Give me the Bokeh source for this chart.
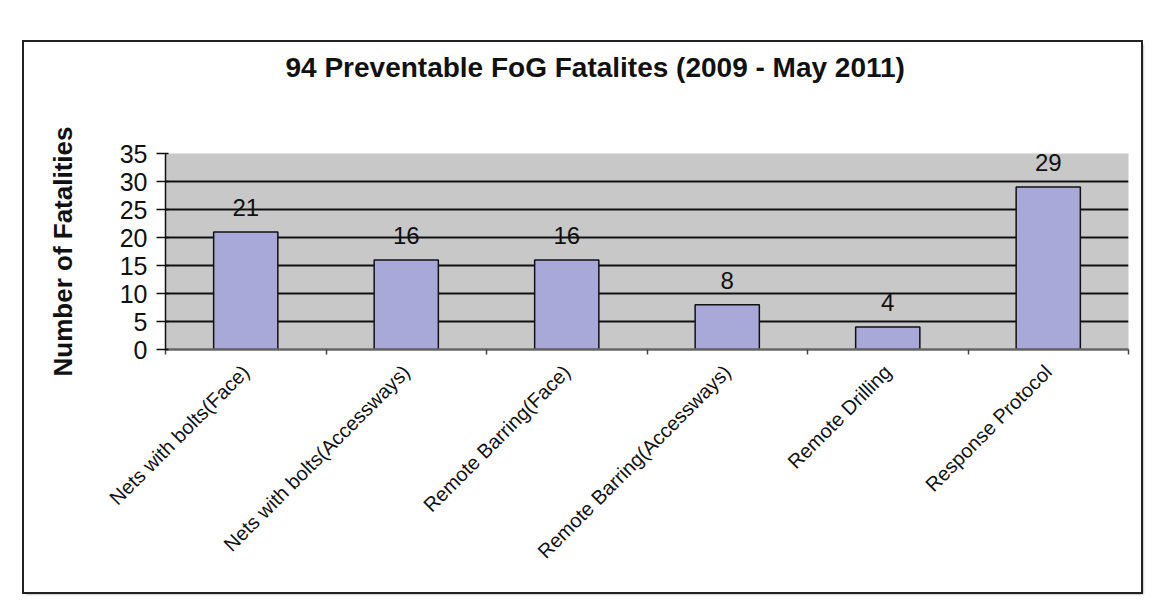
import math
from bokeh.plotting import figure
from bokeh.models import Range1d, FixedTicker, Title
from bokeh.core.properties import value
from bokeh.embed import file_html
from bokeh.resources import INLINE

categories = ["Nets with bolts(Face)", "Nets with bolts(Accessways)", "Remote Barring(Face)",
              "Remote Barring(Accessways)", "Remote Drilling", "Response Protocol"]
fatalities = [21, 16, 16, 8, 4, 29]
y_ticks = [0, 5, 10, 15, 20, 25, 30, 35]
title_text = "94 Preventable FoG Fatalites (2009 - May 2011)"
y_label = "Number of Fatalities"

FONT = "Liberation Sans"
n = len(categories)
centers = [i + 0.5 for i in range(n)]
bounds = [float(i) for i in range(n + 1)]

p = figure(width=1117, height=550, x_range=Range1d(0, n), y_range=Range1d(0, 35),
           output_backend="svg", toolbar_location=None,
           min_border_left=141, min_border_right=13, min_border_top=111, min_border_bottom=243,
           background_fill_color="#c8c8c8", border_fill_color="white", outline_line_color=None)
p.margin = (42, 0, 0, 24)
p.styles = {"outline": "2px solid #222", "box-shadow": "2px 2px 2px #777"}

p.title.text = title_text
p.title.text_font = FONT
p.title.text_font_size = "28px"
p.title.text_font_style = "bold"
p.title.text_color = "#111"
p.title.align = "left"
p.title.offset = 120
p.title.standoff = 0

# blank spacer between the title and the plot area
p.add_layout(Title(text=" ", text_font_size="10px", standoff=58), "above")

# y axis
p.yaxis.ticker = FixedTicker(ticks=y_ticks)
p.yaxis.axis_label = y_label
p.yaxis.axis_label_text_font = FONT
p.yaxis.axis_label_text_font_size = "26px"
p.yaxis.axis_label_text_font_style = "bold"
p.yaxis.axis_label_text_color = "#111"
p.yaxis.axis_label_standoff = 39
p.yaxis.major_label_text_font = FONT
p.yaxis.major_label_text_font_size = "25px"
p.yaxis.major_label_text_color = "#111"
p.yaxis.major_label_standoff = 9
p.yaxis.major_tick_in = 3
p.yaxis.major_tick_out = 9
p.yaxis.major_tick_line_color = "#111"
p.yaxis.major_tick_line_width = 1.5
p.yaxis.minor_tick_line_color = None
p.yaxis.axis_line_color = "#111"
p.yaxis.axis_line_width = 1.5

p.ygrid.ticker = FixedTicker(ticks=y_ticks[1:-1])
p.ygrid.grid_line_color = "#111"
p.ygrid.grid_line_width = 2
p.xgrid.visible = False

# x axis
p.xaxis.ticker = FixedTicker(ticks=centers, minor_ticks=bounds)
p.xaxis.major_label_overrides = {c: cat for c, cat in zip(centers, categories)}
p.xaxis.major_label_orientation = math.pi / 4
p.xaxis.major_label_text_font = FONT
p.xaxis.major_label_text_font_size = "20px"
p.xaxis.major_label_text_color = "#111"
p.xaxis.major_label_standoff = 14
p.xaxis.major_tick_in = 0
p.xaxis.major_tick_out = 0
p.xaxis.minor_tick_in = 0
p.xaxis.minor_tick_out = 5
p.xaxis.minor_tick_line_color = "#444"
p.xaxis.minor_tick_line_width = 1.5
p.xaxis.axis_line_color = "#666"
p.xaxis.axis_line_width = 2.5

p.vbar(x=centers, top=fatalities, width=0.4, fill_color="#a9a9d9",
       line_color="#111", line_width=1.5)
p.text(x=centers, y=fatalities, text=[str(v) for v in fatalities],
       text_align="center", text_baseline="bottom", y_offset=-16,
       text_font=value(FONT), text_font_size="24px", text_color="#111")

html = file_html(p, INLINE)
html = html.replace("<body>", '<body style="background-color:#e6e6e6;">', 1)
open("out.html", "w").write(html)
